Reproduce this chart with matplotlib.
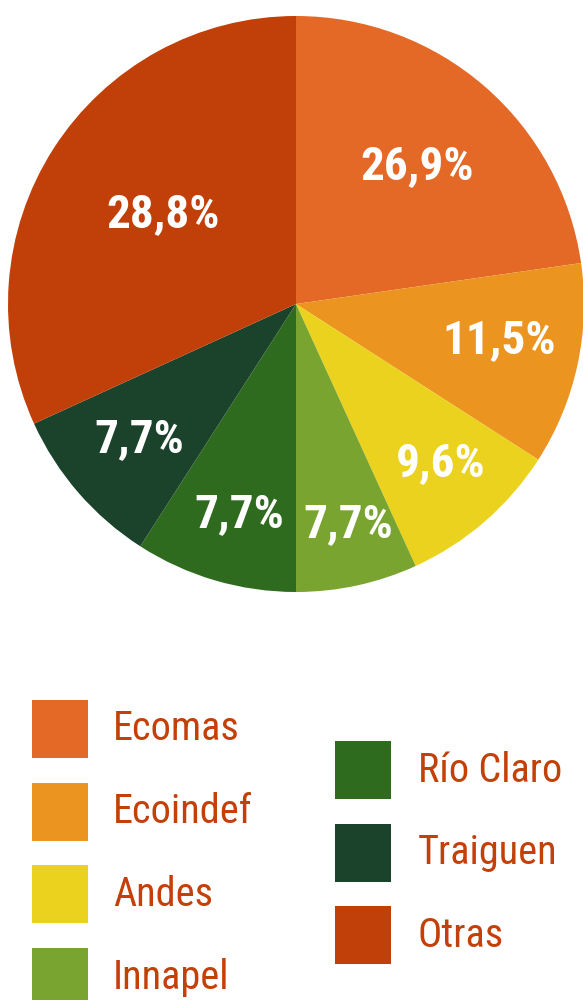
import numpy as np
import matplotlib
matplotlib.use("Agg")
import matplotlib.pyplot as plt
from matplotlib.patches import Rectangle

categories = ["Ecomas", "Ecoindef", "Andes", "Innapel", "Río Claro", "Traiguen", "Otras"]
# wedge sizes as drawn in the picture (counts)
values = [10, 5, 4, 3, 4, 4, 14]
labels = ["26,9%", "11,5%", "9,6%", "7,7%", "7,7%", "7,7%", "28,8%"]
colors = ["#E46826", "#EC9420", "#EBD21E", "#78A42F", "#2F6B1F", "#1B432B", "#C13F08"]

# label placement tweaks (angle shift in degrees, radius fraction)
label_shift = [0, 2.8, 1.8, 1.1, 1.1, -0.6, -2.0]
label_rad = [0.645, 0.716, 0.743, 0.778, 0.749, 0.714, 0.562]

W, H = 583, 1000
fig = plt.figure(figsize=(W / 100, H / 100), dpi=100)
ax = fig.add_axes([0, 0, 1, 1])

cx, cy, R = 296, H - 304, 288
wedges, _ = ax.pie(values, colors=colors, startangle=90, counterclock=False,
                   center=(cx, cy), radius=R, frame=True,
                   wedgeprops=dict(linewidth=0))
ax.set_xlim(0, W)
ax.set_ylim(0, H)
ax.set_aspect("equal")
ax.axis("off")

font = ["Roboto Condensed", "Roboto", "DejaVu Sans"]
for w, lab, sh, rf in zip(wedges, labels, label_shift, label_rad):
    mid = np.deg2rad((w.theta1 + w.theta2) / 2 + sh)
    x = cx + R * rf * np.cos(mid)
    y = cy + R * rf * np.sin(mid)
    ax.text(x, y - 2, lab, ha="center", va="center", color="white",
            fontsize=34, fontweight="bold", family=font)

text_color = "#C44009"
left = categories[:4]
right = categories[4:]
for i, (name, col) in enumerate(zip(left, colors[:4])):
    top = 700 + i * 82.7
    ax.add_patch(Rectangle((32, H - top - 58), 56, 58, color=col, lw=0))
    ax.text(113, H - top - 29, name, ha="left", va="center", color=text_color,
            fontsize=29, family=font)
for i, (name, col) in enumerate(zip(right, colors[4:])):
    top = 741 + i * 82.7
    ax.add_patch(Rectangle((335, H - top - 58), 56, 58, color=col, lw=0))
    ax.text(418, H - top - 29, name, ha="left", va="center", color=text_color,
            fontsize=29, family=font)

fig.savefig("out.png", dpi=100)
